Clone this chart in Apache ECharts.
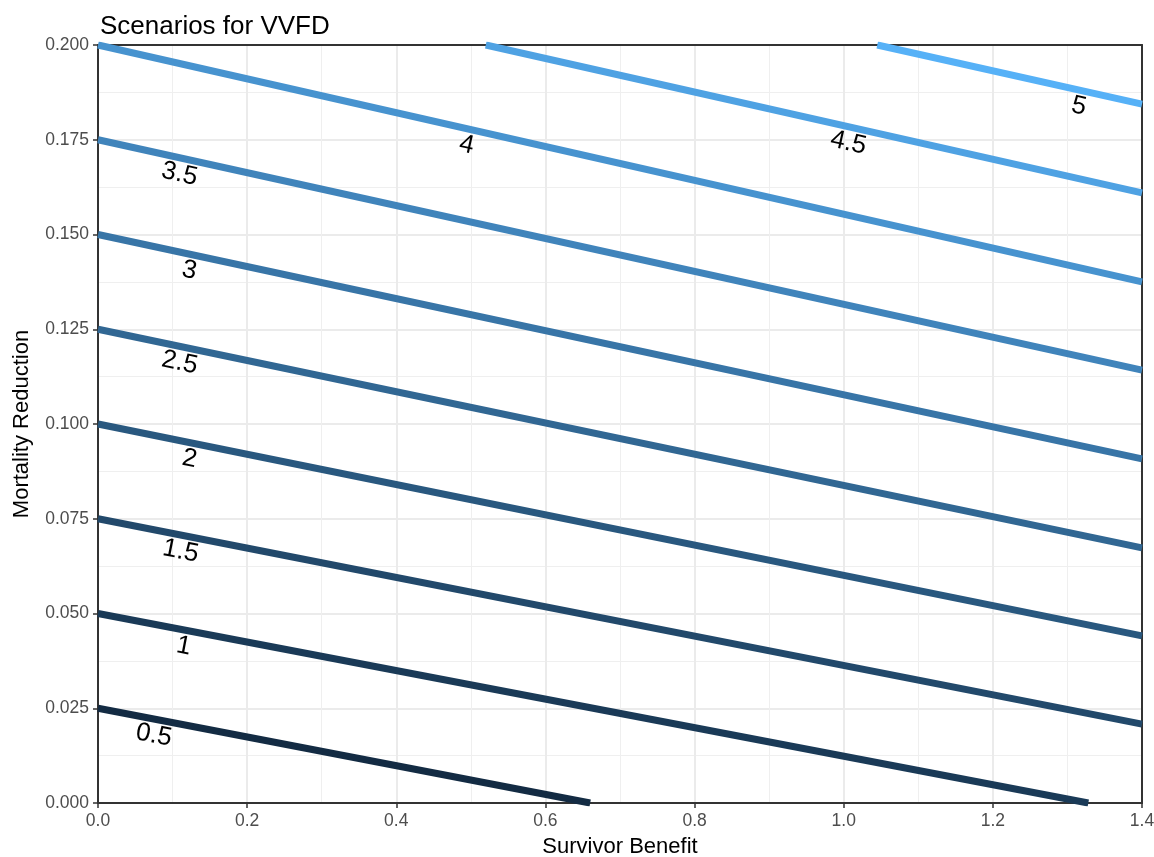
<!DOCTYPE html>
<html>
<head>
<meta charset="utf-8">
<script src="https://cdn.jsdelivr.net/npm/echarts@6/dist/echarts.min.js"></script>
<style>
  html, body { margin: 0; padding: 0; background: #fff; }
  #chart { width: 1154px; height: 857px; }
</style>
</head>
<body>
<div id="chart"></div>
<script>
// contour levels and the two ends of each (straight) contour line
const levels = [0.5, 1, 1.5, 2, 2.5, 3, 3.5, 4, 4.5, 5];
const startX = [0, 0, 0, 0, 0, 0, 0, 0, 0.520, 1.045];
const startY = [0.025, 0.05, 0.075, 0.1, 0.125, 0.15, 0.175, 0.2, 0.2, 0.2];
const endX = [0.660, 1.328, 1.4, 1.4, 1.4, 1.4, 1.4, 1.4, 1.4, 1.4];
const endY = [0, 0, 0.0208, 0.0441, 0.0673, 0.0908, 0.1142, 0.1375, 0.161, 0.1844];
// where the level label sits along each line (x)
const labelX = [0.079, 0.119, 0.115, 0.127, 0.114, 0.127, 0.114, 0.499, 1.011, 1.320];

const FONT = '"Liberation Sans", Arial, Helvetica, sans-serif';
const lowColor = '#132B43';
const highColor = '#56B1F7';

const chart = echarts.init(document.getElementById('chart'));

const minL = Math.min(...levels), maxL = Math.max(...levels);
const colorOf = l => echarts.color.lerp((l - minL) / (maxL - minL), [lowColor, highColor]);

const lineSeries = levels.map((l, i) => ({
  name: 'level ' + l,
  type: 'line',
  data: [[startX[i], startY[i]], [endX[i], endY[i]]],
  symbol: 'none',
  silent: true,
  z: 3,
  lineStyle: { color: colorOf(l), width: 7, cap: 'butt' }
}));

// label anchor on each line
const labelPoints = levels.map((l, i) => {
  const t = (labelX[i] - startX[i]) / (endX[i] - startX[i]);
  return [labelX[i], startY[i] + t * (endY[i] - startY[i])];
});

function labelSeries(rotations) {
  return {
    name: 'labels',
    type: 'scatter',
    symbolSize: 0,
    silent: true,
    z: 5,
    itemStyle: { color: '#000', opacity: 1 },
    data: labelPoints.map((p, i) => ({
      value: p,
      label: {
        show: true,
        position: 'inside',
        formatter: String(levels[i]),
        rotate: rotations[i],
        offset: [0, 16],
        color: '#000',
        textBorderWidth: 0,
        textBorderColor: 'transparent',
        fontSize: 26,
        fontFamily: FONT
      }
    }))
  };
}

const gridLine = { color: '#EBEBEB', width: 2 };
const minorLine = { color: '#EFEFEF', width: 1 };
const border = { show: true, onZero: false, lineStyle: { color: '#333', width: 2 } };

// extra axes that only draw the top and right panel border
const borderAxis = {
  type: 'value',
  axisLine: border,
  axisTick: { show: false },
  axisLabel: { show: false },
  splitLine: { show: false }
};

const option = {
  animation: false,
  backgroundColor: '#fff',
  title: {
    text: 'Scenarios for VVFD',
    left: 95,
    top: 9,
    textStyle: { color: '#000', fontSize: 26, fontWeight: 'normal', fontFamily: FONT }
  },
  grid: {
    left: 98, right: 12, top: 45, bottom: 54,
    outerBoundsMode: 'none',
    containLabel: false,
    show: true,
    borderWidth: 0,
    backgroundColor: '#fff'
  },
  xAxis: [{
    type: 'value',
    min: 0, max: 1.4, interval: 0.2,
    name: 'Survivor Benefit',
    nameLocation: 'middle',
    nameGap: 33,
    nameTextStyle: { color: '#000', fontSize: 22, fontFamily: FONT },
    axisLine: border,
    axisTick: { show: true, length: 5, lineStyle: { color: '#333', width: 1.5 } },
    axisLabel: {
      color: '#4D4D4D', fontSize: 17.5, fontFamily: FONT, margin: 9,
      formatter: v => v.toFixed(1)
    },
    splitLine: { show: true, lineStyle: gridLine },
    minorTick: { show: false, splitNumber: 2 },
    minorSplitLine: { show: true, lineStyle: minorLine }
  }, Object.assign({ position: 'top', min: 0, max: 1.4 }, borderAxis)],
  yAxis: [{
    type: 'value',
    min: 0, max: 0.2, interval: 0.025,
    name: 'Mortality Reduction',
    nameLocation: 'middle',
    nameGap: 65,
    nameTextStyle: { color: '#000', fontSize: 22, fontFamily: FONT },
    axisLine: border,
    axisTick: { show: true, length: 5, lineStyle: { color: '#333', width: 1.5 } },
    axisLabel: {
      color: '#4D4D4D', fontSize: 17.5, fontFamily: FONT, margin: 9,
      formatter: v => v.toFixed(3)
    },
    splitLine: { show: true, lineStyle: gridLine },
    minorTick: { show: false, splitNumber: 2 },
    minorSplitLine: { show: true, lineStyle: minorLine }
  }, Object.assign({ position: 'right', min: 0, max: 0.2 }, borderAxis)],
  series: lineSeries.concat([labelSeries(levels.map(() => 0))])
};

chart.setOption(option);

// rotate each label to follow its line on screen
const rotations = levels.map((l, i) => {
  const a = chart.convertToPixel({ xAxisIndex: 0, yAxisIndex: 0 }, [startX[i], startY[i]]);
  const b = chart.convertToPixel({ xAxisIndex: 0, yAxisIndex: 0 }, [endX[i], endY[i]]);
  return -Math.atan2(b[1] - a[1], b[0] - a[0]) * 180 / Math.PI;
});
chart.setOption({ series: lineSeries.concat([labelSeries(rotations)]) });
</script>
</body>
</html>
